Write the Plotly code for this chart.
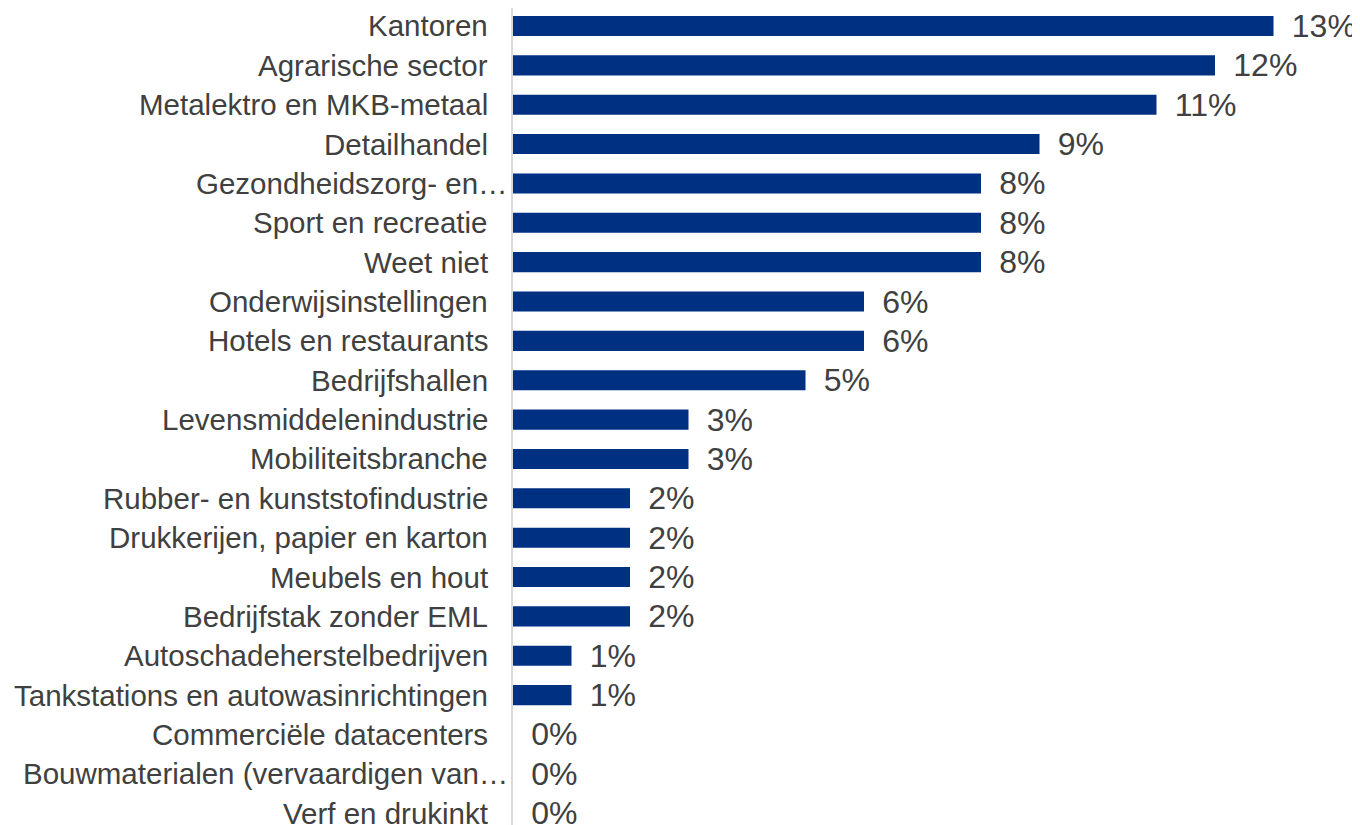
import plotly.graph_objects as go

BAR_COLOR = "#003082"
TEXT_COLOR = "#404040"
AXIS_COLOR = "#D9D9D9"
FONT = "Liberation Sans, Arial, sans-serif"

categories = [
    "Kantoren",
    "Agrarische sector",
    "Metalektro en MKB-metaal",
    "Detailhandel",
    "Gezondheidszorg- en…",
    "Sport en recreatie",
    "Weet niet",
    "Onderwijsinstellingen",
    "Hotels en restaurants",
    "Bedrijfshallen",
    "Levensmiddelenindustrie",
    "Mobiliteitsbranche",
    "Rubber- en kunststofindustrie",
    "Drukkerijen, papier en karton",
    "Meubels en hout",
    "Bedrijfstak zonder EML",
    "Autoschadeherstelbedrijven",
    "Tankstations en autowasinrichtingen",
    "Commerciële datacenters",
    "Bouwmaterialen (vervaardigen van…",
    "Verf en drukinkt",
]
values = [13, 12, 11, 9, 8, 8, 8, 6, 6, 5, 3, 3, 2, 2, 2, 2, 1, 1, 0, 0, 0]

fig = go.Figure(go.Bar(
    x=values,
    y=categories,
    orientation="h",
    marker=dict(color=BAR_COLOR, line=dict(width=0)),
    width=0.51,
    text=values,
    texttemplate="\u00a0\u2009%{x}%",
    textposition="outside",
    constraintext="none",
    cliponaxis=False,
    textfont=dict(family=FONT, size=32, color=TEXT_COLOR),
    hoverinfo="skip",
))

# category labels as annotations: truncated ones (…) run up to the axis line
for cat in categories:
    fig.add_annotation(
        x=0, y=cat, xref="x", yref="y",
        text=cat, showarrow=False,
        xanchor="right", yanchor="middle",
        xshift=-3 if cat.endswith("…") else -23,
        font=dict(family=FONT, size=29.5, color=TEXT_COLOR),
    )

# page body adds an 8px offset, so margins/ranges compensate for it
fig.update_layout(
    width=1352,
    height=817,
    paper_bgcolor="white",
    plot_bgcolor="white",
    margin=dict(l=505, r=28, t=0, b=0, autoexpand=False),
    showlegend=False,
    font=dict(family=FONT, size=29.5, color=TEXT_COLOR),
    xaxis=dict(
        range=[0, 14],
        showgrid=False,
        zeroline=False,
        showticklabels=False,
        showline=False,
        automargin=False,
    ),
    yaxis=dict(
        type="category",
        range=[20.30, -0.457],
        showgrid=False,
        zeroline=False,
        showline=True,
        linecolor=AXIS_COLOR,
        linewidth=1.5,
        ticks="",
        showticklabels=False,
        automargin=False,
    ),
)

fig.write_html("out.html")
